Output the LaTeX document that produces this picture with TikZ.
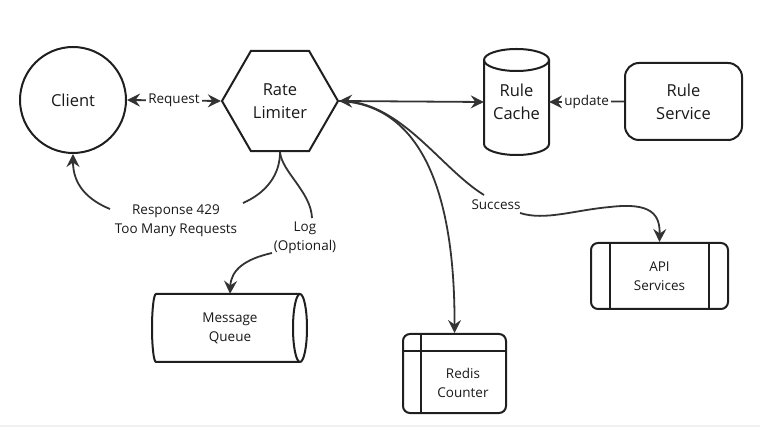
\documentclass[tikz,border=0pt]{standalone}
\usepackage{fontspec}
\setmainfont{Open Sans}
\usetikzlibrary{arrows.meta,shapes.geometric}
\begin{document}
\begin{tikzpicture}[x=1pt,y=-1pt,
  shapeline/.style={draw=black!88, line width=2pt},
  conn/.style={draw=black!80, line width=1.8pt},
  tip/.style={-{Stealth[length=13pt,width=13pt,inset=4.5pt]}},
  tiptwo/.style={{Stealth[length=13pt,width=13pt,inset=4.5pt]}-{Stealth[length=13pt,width=13pt,inset=4.5pt]}},
  mainfs/.style={font=\fontsize{16.5}{23}\selectfont, text=black!90, align=center},
  subfs/.style={font=\fontsize{13.5}{19}\selectfont, text=black!90, align=center},
  lbl/.style={subfs, fill=white, inner sep=2pt}
]
\useasboundingbox (0,0) rectangle (760,427);
\fill[black!6] (0,425) rectangle (760,427);

% Client
\node[circle, shapeline, minimum size=106pt, inner sep=0, mainfs] (client) at (73,100) {Client};
% Rate limiter
\node[regular polygon, regular polygon sides=6, shapeline, minimum size=116pt, inner sep=0, mainfs] (rl) at (280,101) {Rate\\Limiter};

% Rule cache (cylinder)
\draw[shapeline, fill=white] (484,60) -- (484,144)
  arc[start angle=180, end angle=0, x radius=32.5, y radius=11] -- (549,60)
  arc[start angle=0, end angle=-180, x radius=32.5, y radius=11] -- cycle;
\draw[shapeline] (484,60) arc[start angle=180, end angle=0, x radius=32.5, y radius=11];
\node[minimum width=65pt, minimum height=106pt, inner sep=0, mainfs] (cache) at (516.5,102) {Rule\\Cache};

% Rule service
\node[shapeline, rounded corners=14pt, minimum width=117pt, minimum height=77pt, mainfs] (rs) at (683.5,101.5) {Rule\\Service};

% Message queue (horizontal cylinder)
\draw[shapeline, fill=white] (156,294) -- (300,294)
  arc[start angle=-90, end angle=90, x radius=7, y radius=34] -- (156,362)
  arc[start angle=90, end angle=270, x radius=4, y radius=34] -- cycle;
\draw[shapeline] (300,294) arc[start angle=270, end angle=90, x radius=7, y radius=34];
\node[minimum width=154pt, minimum height=68pt, inner sep=0, subfs] (mq) at (230,328) {Message\\Queue};

% Redis counter
\node[shapeline, rounded corners=7pt, minimum width=103pt, minimum height=79pt, inner sep=0] (redis) at (454.5,373.5) {};
\draw[shapeline] (421,334) -- (421,413);
\draw[shapeline] (403,351) -- (506,351);
\node[subfs] (redistext) at (463,383) {Redis\\Counter};

% API services
\node[shapeline, rounded corners=7pt, minimum width=137pt, minimum height=66pt, inner sep=0, subfs] (api) at (659.5,276) {API\\Services};
\draw[shapeline] (610,243) -- (610,309);
\draw[shapeline] (709,243) -- (709,309);

% Connectors
\draw[conn, tiptwo] (client.east) -- node[lbl] {Request} (rl.west);
\draw[conn, tiptwo] (rl.east) -- (cache.west);
\draw[conn, tip] (rs.west) -- node[lbl] {update} (cache.east);

% Response 429
\node[subfs] (resp) at (176,221) {Response 429\\Too Many Requests};
\coordinate (r1) at (243,203);
\coordinate (r2) at (110,209);
\draw[conn] (rl.south) .. controls (280,175) and (266,193) .. (r1);
\draw[conn, tip] (r2) .. controls (88,200) and (73,185) .. (client.south);

% Log
\node[subfs] (log) at (305,238) {Log\\(Optional)};
\coordinate (l1) at (312,218);
\coordinate (l2) at (272,253);
\draw[conn] (rl.south) .. controls (282,172) and (311,192) .. (l1);
\draw[conn, tip] (l2) .. controls (245,259) and (231,270) .. (mq.north);

% Redis
\draw[conn, tip] (rl.east) .. controls (425,105) and (455,200) .. (redis.north);

% Success
\node[subfs] (succ) at (496,205) {Success};
\coordinate (s1) at (484,195);
\coordinate (s2) at (520,213);
\draw[conn] (rl.east) .. controls (400,100) and (440,168) .. (s1);
\draw[conn, tip] (s2) .. controls (545,221) and (575,210) .. (610,207)
  .. controls (652,202) and (660,215) .. (api.north);
\end{tikzpicture}
\end{document}
